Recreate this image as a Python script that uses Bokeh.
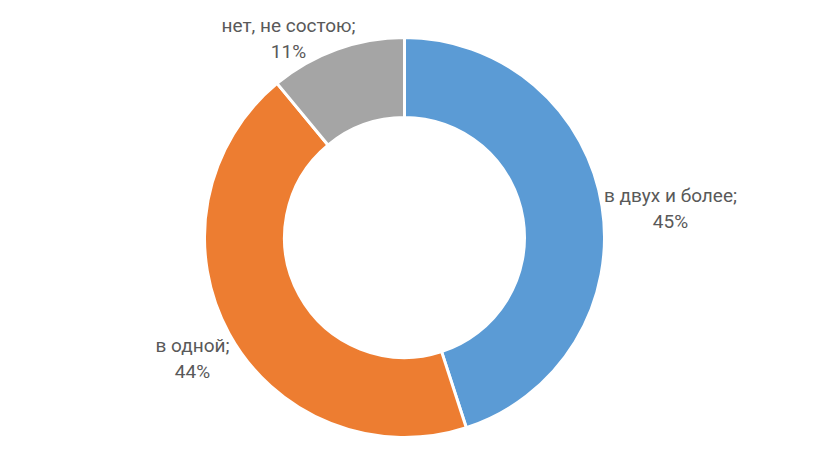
import numpy as np
from bokeh.plotting import figure
from bokeh.models import Range1d, ColumnDataSource
from bokeh.core.properties import value
from bokeh.embed import file_html
from bokeh.resources import INLINE

categories = ["в двух и более", "в одной", "нет, не состою"]
shares = [45, 44, 11]
colors = ["#5B9BD5", "#ED7D31", "#A5A5A5"]

# donut starts at 12 o'clock and goes clockwise, like Excel
fracs = np.array(shares) / sum(shares)
ends = np.cumsum(fracs)
starts = ends - fracs
start_angle = np.pi / 2 - starts * 2 * np.pi
end_angle = np.pi / 2 - ends * 2 * np.pi

src = ColumnDataSource(dict(cat=categories, share=shares, color=colors,
                            start=start_angle, end=end_angle))

# 1 data unit = 1 pixel, donut centre at (0, 0)
p = figure(width=804, height=451, output_backend="svg", toolbar_location=None,
           x_axis_type=None, y_axis_type=None, min_border=0,
           x_range=Range1d(-404, 400), y_range=Range1d(-214, 237))
p.grid.visible = False
p.outline_line_color = None

p.annular_wedge(x=0, y=0, inner_radius=120, outer_radius=200,
                start_angle="start", end_angle="end", direction="clock",
                fill_color="color", line_color="white", line_width=3, source=src)

# label positions
label_x = [266, -212, -116]
label_y = [42, -108, 212]
names = [c + ";" for c in categories]
pcts = [f"{s}%" for s in shares]

font = value("Roboto")
p.text(x=label_x, y=label_y, text=names, text_font=font, text_font_size="19px",
       text_color="#595959", text_align="center", text_baseline="middle")
p.text(x=label_x, y=[y - 26 for y in label_y], text=pcts, text_font=font,
       text_font_size="19px", text_color="#595959", text_align="center",
       text_baseline="middle")

open("out.html", "w").write(file_html(p, INLINE))
